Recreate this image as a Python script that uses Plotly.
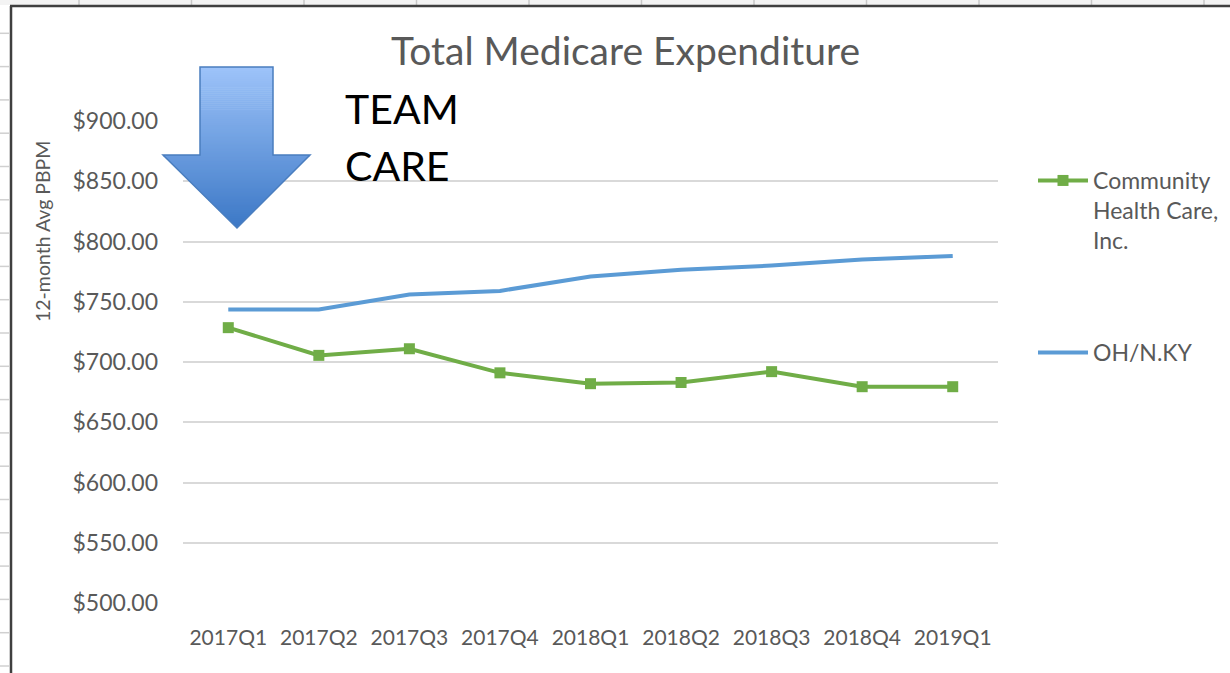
import plotly.graph_objects as go

quarters = ["2017Q1", "2017Q2", "2017Q3", "2017Q4", "2018Q1", "2018Q2", "2018Q3", "2018Q4", "2019Q1"]
chc_values = [728.5, 705.5, 711.0, 691.0, 682.0, 683.0, 692.0, 679.5, 679.5]
ohky_values = [743.5, 743.5, 756.0, 759.0, 771.0, 776.5, 780.0, 785.0, 788.0]
series_names = ["Community<br>Health Care,<br>Inc.", "OH/N.KY"]
y_ticks = [500, 550, 600, 650, 700, 750, 800, 850, 900]
y_tick_labels = ["$%.2f" % v for v in y_ticks]

W, H = 1230, 673
L, R, T, B = 183, 998, 121, 603  # plot area in pixels

def px(x):
    return (x - L) / (R - L)

def py(y):
    return (B - y) / (B - T)

FONT = "Lato"
GREY = "#595959"

fig = go.Figure()
fig.add_trace(go.Scatter(
    x=quarters, y=chc_values, name=series_names[0], mode="lines+markers",
    line=dict(color="#70AD47", width=4), marker=dict(symbol="square", size=11, color="#70AD47"),
    legend="legend",
))
fig.add_trace(go.Scatter(
    x=quarters, y=ohky_values, name=series_names[1], mode="lines",
    line=dict(color="#5B9BD5", width=4), legend="legend2",
))

shapes = []
# spreadsheet background strip (outside chart)
shapes.append(dict(type="rect", xref="paper", yref="paper", x0=px(0), x1=px(W), y0=py(0), y1=py(5),
                   fillcolor="#f3f3f3", line=dict(width=0), layer="below"))
k = 0
while 79 + 112.5 * k < W:
    xx = 79 + 112.5 * k
    shapes.append(dict(type="line", xref="paper", yref="paper", x0=px(xx), x1=px(xx), y0=py(0), y1=py(5),
                       line=dict(color="#c8c8c8", width=1.5)))
    k += 1
k = 1
while 33.3 * k < H:
    yy = 33.3 * k
    shapes.append(dict(type="line", xref="paper", yref="paper", x0=px(0), x1=px(9), y0=py(yy), y1=py(yy),
                       line=dict(color="#d0d0d0", width=1.5)))
    k += 1
# chart border
shapes.append(dict(type="line", xref="paper", yref="paper", x0=px(11), x1=px(11), y0=py(6), y1=py(H + 5),
                   line=dict(color="#3f3f3f", width=2.5)))
shapes.append(dict(type="line", xref="paper", yref="paper", x0=px(10), x1=px(W + 5), y0=py(6), y1=py(6),
                   line=dict(color="#3f3f3f", width=2.5)))

# gradient arrow (decoration), drawn as horizontal slices
sx0, sx1, ytop, yneck = 200, 273, 67, 155
hx0, hx1, ytip, xtip = 163, 310, 228, 237
c_top = (158, 196, 250)
c_bot = (60, 120, 198)
n = 80
for i in range(n):
    ya = ytop + (ytip - ytop) * i / n
    yb = ytop + (ytip - ytop) * (i + 1) / n + 0.6
    t = (i + 0.5) / n
    col = "rgb(%d,%d,%d)" % tuple(int(c_top[j] + (c_bot[j] - c_top[j]) * t) for j in range(3))
    if yb <= yneck:
        pts = [(sx0, ya), (sx1, ya), (sx1, yb), (sx0, yb)]
    elif ya >= yneck:
        def half(y):
            f = (y - yneck) / (ytip - yneck)
            return (xtip - hx0) * (1 - f), (hx1 - xtip) * (1 - f)
        la, ra = half(ya)
        lb, rb = half(min(yb, ytip))
        pts = [(xtip - la, ya), (xtip + ra, ya), (xtip + rb, min(yb, ytip)), (xtip - lb, min(yb, ytip))]
    else:
        pts = [(sx0, ya), (sx1, ya), (sx1, yneck), (hx1, yneck), (hx1, yb), (hx0, yb), (hx0, yneck), (sx0, yneck)]
    path = "M " + " L ".join("%.5f,%.5f" % (px(a), py(b)) for a, b in pts) + " Z"
    shapes.append(dict(type="path", xref="paper", yref="paper", path=path, fillcolor=col, line=dict(width=0)))
outline = [(sx0, ytop), (sx1, ytop), (sx1, yneck), (hx1, yneck), (xtip, ytip), (hx0, yneck), (sx0, yneck)]
shapes.append(dict(type="path", xref="paper", yref="paper",
                   path="M " + " L ".join("%.5f,%.5f" % (px(a), py(b)) for a, b in outline) + " Z",
                   fillcolor="rgba(0,0,0,0)", line=dict(color="#4a7ebf", width=1.5)))

annotations = [
    dict(text="Total Medicare Expenditure", xref="paper", yref="paper", x=px(625), y=py(50),
         xanchor="center", yanchor="middle", showarrow=False, font=dict(family=FONT, size=39, color=GREY)),
    dict(text="12-month Avg PBPM", xref="paper", yref="paper", x=px(42), y=py(232), textangle=-90,
         xanchor="center", yanchor="middle", showarrow=False, font=dict(family=FONT, size=19.5, color=GREY)),
    dict(text="TEAM", xref="paper", yref="paper", x=px(343), y=py(108),
         xanchor="left", yanchor="middle", showarrow=False, font=dict(family=FONT, size=41, color="#000000")),
    dict(text="CARE", xref="paper", yref="paper", x=px(343), y=py(165),
         xanchor="left", yanchor="middle", showarrow=False, font=dict(family=FONT, size=41, color="#000000")),
]

fig.update_layout(
    width=W, height=H,
    margin=dict(l=L, r=W - R, t=T, b=H - B, pad=0, autoexpand=False),
    paper_bgcolor="white", plot_bgcolor="white",
    font=dict(family=FONT, color=GREY),
    showlegend=True,
    legend=dict(x=px(1033), y=py(159), xanchor="left", yanchor="top", bgcolor="rgba(0,0,0,0)",
                font=dict(family=FONT, size=23, color=GREY), itemwidth=50, valign="top"),
    legend2=dict(x=px(1033), y=py(331), xanchor="left", yanchor="top", bgcolor="rgba(0,0,0,0)",
                 font=dict(family=FONT, size=23, color=GREY), itemwidth=50),
    xaxis=dict(type="category", categoryorder="array", categoryarray=quarters, range=[-0.5, 8.5],
               showgrid=False, zeroline=False, showline=False, ticks="", automargin=False,
               tickfont=dict(family=FONT, size=21, color=GREY), ticklabelstandoff=20, fixedrange=True),
    yaxis=dict(range=[500, 900], tickmode="array", tickvals=y_ticks, ticktext=y_tick_labels,
               showgrid=True, gridcolor="#d9d9d9", gridwidth=1.5, zeroline=False, showline=False, ticks="",
               automargin=False,
               tickfont=dict(family=FONT, size=23, color=GREY), ticklabelstandoff=24, fixedrange=True),
    shapes=shapes,
    annotations=annotations,
)

fig.write_html("out.html", config={"displayModeBar": False},
               post_script="document.body.style.margin='0px';")
